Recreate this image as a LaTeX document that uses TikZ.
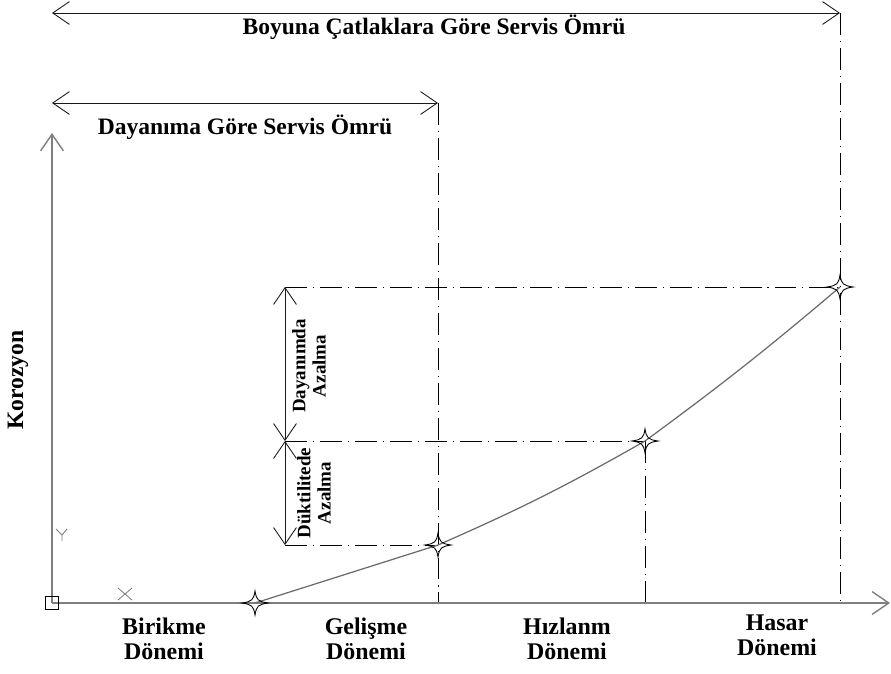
\documentclass[tikz,border=0pt]{standalone}
\usepackage{fontspec}
\setmainfont{Liberation Serif}
\usepackage{tikz}
\usetikzlibrary{arrows.meta}
\definecolor{eksengri}{HTML}{7F7F7F}
\definecolor{egrigri}{HTML}{6A6A6A}
\definecolor{cizgi}{HTML}{1A1A1A}

\begin{document}
\begin{tikzpicture}[x=0.02cm,y=-0.02cm,
  olcu/.style={{Straight Barb[length=9.5pt,width=13pt]}-{Straight Barb[length=9.5pt,width=13pt]},line width=0.5pt,draw=cizgi},
  eksen/.style={-{Straight Barb[length=9.5pt,width=13pt]},line width=0.8pt,draw=eksengri},
  kesik/.style={line width=0.5pt,draw=black,dash pattern=on 12.5pt off 3.4pt on 0.6pt off 3.4pt},
  baslik/.style={font=\fontsize{13.4}{15}\selectfont\bfseries,inner sep=0pt},
  etiket/.style={font=\fontsize{13.6}{14.2}\selectfont\bfseries,align=center,inner sep=0pt},
  dikey/.style={font=\fontsize{10.8}{11.5}\selectfont\bfseries,align=center,inner sep=0pt,rotate=90},
  yildiz/.pic={\draw[line width=0.5pt] (13,0) .. controls (3,1.5) and (1.5,3) .. (0,12) .. controls (-1.5,3) and (-3,1.5) .. (-13,0) .. controls (-3,-1.5) and (-1.5,-3) .. (0,-12) .. controls (1.5,-3) and (3,-1.5) .. cycle;}]
\useasboundingbox (0,0) rectangle (891,673);
\coordinate (o) at (52,603);
\coordinate (xuc) at (890,603);
\coordinate (yuc) at (52,133);
\coordinate (p1) at (255,603);
\coordinate (p2) at (438,545);
\coordinate (p3) at (645,441);
\coordinate (p4) at (840,287);
\coordinate (a1) at (52,13);
\coordinate (a2) at (840,13);
\coordinate (b1) at (52,103);
\coordinate (b2) at (438,103);
\coordinate (c1) at (438,603);
\coordinate (c2) at (645,603);
\coordinate (c3) at (840,603);
\coordinate (u1) at (285,287);
\coordinate (u2) at (285,441);
\coordinate (u3) at (285,545);
\draw[kesik] (b2) -- (c1);
\draw[kesik] (p3) -- (c2);
\draw[kesik] (a2) -- (c3);
\draw[kesik] (u1) -- (p4);
\draw[kesik] (u2) -- (p3);
\draw[kesik] (u3) -- (p2);
\draw[eksen] (o) -- (xuc);
\draw[eksen] (o) -- (yuc);
\node[draw=black,line width=0.5pt,minimum size=7.4pt,inner sep=0pt] (kare) at (o) {};
\draw[eksengri,line width=0.5pt] (56,529) -- (62,535) -- (67,529) (62,535) -- (62,541);
\draw[eksengri,line width=0.5pt] (118,588) -- (132,600) (118,600) -- (132,588);
\draw[egrigri,line width=0.7pt] (p1) -- (p2) to[bend right=3] (p3) to[bend right=2] (p4);
\foreach \p in {p1,p2,p3,p4} \pic at (\p) {yildiz};
\draw[olcu] (a1) -- (a2);
\draw[olcu] (b1) -- (b2);
\draw[olcu] (u1) -- (u2);
\draw[olcu] (u2) -- (u3);
\node[baslik] (bcs) at (434,27) {Boyuna Çatlaklara Göre Servis Ömrü};
\node[baslik] (dgs) at (245,127) {Dayanıma Göre Servis Ömrü};
\node[baslik,rotate=90] (kor) at (18,380) {Korozyon};
\node[etiket] (bir) at (164,639) {Birikme\\Dönemi};
\node[etiket] (gel) at (366,639) {Gelişme\\Dönemi};
\node[etiket] (hiz) at (567,639) {Hızlanm\\Dönemi};
\node[etiket] (has) at (777,635) {Hasar\\Dönemi};
\node[dikey] (day) at (309,366) {Dayanımda\\Azalma};
\node[dikey] (duk) at (314,493) {Düktilitede\\Azalma};
\end{tikzpicture}
\end{document}
